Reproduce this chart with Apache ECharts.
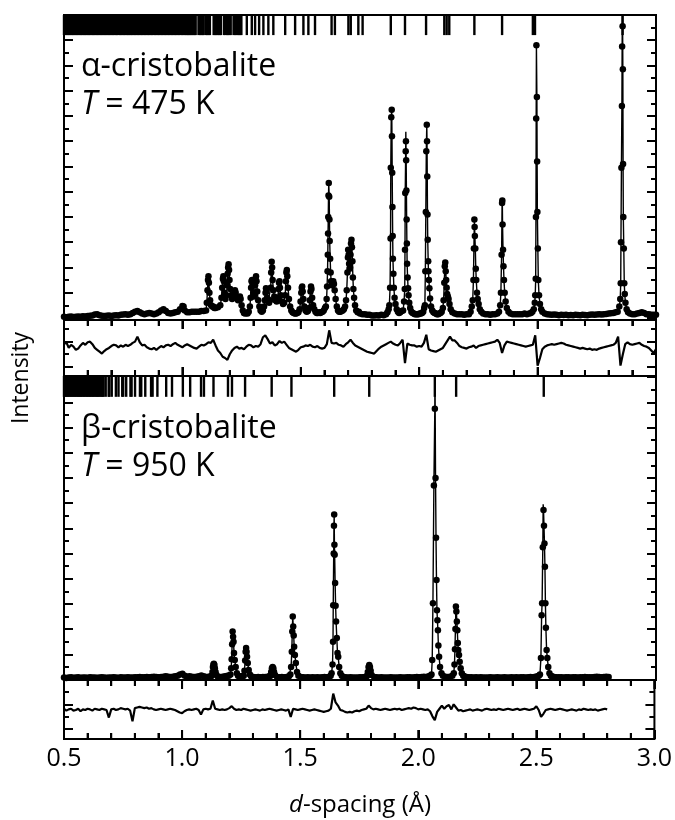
<!DOCTYPE html>
<html><head><meta charset="utf-8">
<script src="https://cdn.jsdelivr.net/npm/echarts@6/dist/echarts.min.js"></script>
<style>html,body{margin:0;padding:0;background:#fff;overflow:hidden}#c{width:675px;height:820px}</style>
</head><body><div id="c"></div>
<script>
// ---------------- data ----------------
const xTickLabels = [0.5, 1.0, 1.5, 2.0, 2.5, 3.0];
const xMinorTicks = [0.5,0.6,0.7,0.8,0.9,1.0,1.1,1.2,1.3,1.4,1.5,1.6,1.7,1.8,1.9,2.0,2.1,2.2,2.3,2.4,2.5,2.6,2.7,2.8,2.9,3.0];

// alpha-cristobalite, observed points [d, intensity]
const alphaObs = [
[0.50,0.10],[0.51,0.05],[0.52,0.10],[0.53,0.12],[0.54,0.08],[0.55,0.10],[0.56,0.12],[0.57,0.10],[0.58,0.14],[0.59,0.12],
[0.60,0.15],[0.61,0.18],[0.62,0.20],[0.63,0.28],[0.64,0.30],[0.65,0.22],[0.66,0.18],[0.67,0.15],[0.68,0.18],[0.69,0.20],
[0.70,0.16],[0.71,0.20],[0.72,0.22],[0.73,0.20],[0.74,0.25],[0.75,0.28],[0.76,0.30],[0.77,0.25],[0.78,0.30],[0.79,0.40],
[0.80,0.50],[0.81,0.55],[0.82,0.45],[0.83,0.35],[0.84,0.30],[0.85,0.35],[0.86,0.40],[0.87,0.35],[0.88,0.30],[0.89,0.35],
[0.90,0.45],[0.91,0.60],[0.92,0.70],[0.93,0.55],[0.94,0.40],[0.95,0.35],[0.96,0.40],[0.97,0.45],[0.98,0.50],[0.99,0.70],
[1.00,0.95],[1.005,0.90],[1.01,0.60],[1.02,0.45],[1.03,0.45],[1.04,0.50],[1.05,0.50],[1.06,0.50],[1.07,0.50],[1.08,0.55],[1.09,0.55],[1.10,0.60],
[1.103,1.2],[1.106,2.2],[1.108,3.0],[1.110,3.3],[1.112,2.8],[1.114,2.0],[1.117,1.4],[1.121,1.0],[1.126,0.9],[1.13,0.9],[1.135,0.8],[1.14,0.8],[1.15,0.85],[1.16,1.0],
[1.165,1.6],[1.168,2.4],[1.171,3.1],[1.173,3.3],[1.175,2.9],[1.178,2.0],[1.182,1.5],[1.186,1.8],[1.189,2.6],[1.191,3.5],[1.193,4.0],[1.195,4.25],[1.197,3.8],[1.199,3.0],[1.202,2.3],
[1.206,1.8],[1.21,1.5],[1.215,1.6],[1.219,1.9],[1.222,2.2],[1.225,2.0],[1.23,1.6],[1.235,1.4],[1.24,1.5],[1.243,1.7],[1.246,1.5],[1.25,1.0],[1.255,0.6],[1.26,0.4],[1.265,0.35],[1.27,0.4],[1.275,0.35],[1.28,0.5],
[1.285,0.9],[1.288,1.6],[1.290,2.4],[1.292,2.9],[1.294,3.0],[1.296,2.6],[1.299,2.0],[1.302,1.7],[1.305,1.9],[1.307,2.6],[1.309,3.1],[1.311,3.3],[1.313,2.9],[1.316,2.1],[1.32,1.4],[1.325,0.9],[1.33,0.6],[1.335,0.5],[1.34,0.6],[1.345,0.9],
[1.348,1.4],[1.351,2.0],[1.353,2.35],[1.355,2.1],[1.358,1.6],[1.362,1.3],[1.366,1.2],[1.37,1.4],[1.373,2.4],[1.375,3.6],[1.377,4.45],[1.379,4.0],[1.381,3.0],[1.384,2.2],[1.388,1.7],
[1.393,1.4],[1.398,1.3],[1.403,1.6],[1.406,2.3],[1.408,2.8],[1.410,2.9],[1.412,2.4],[1.415,1.8],[1.42,1.3],[1.425,1.1],[1.43,1.2],
[1.434,1.8],[1.437,2.9],[1.439,3.6],[1.441,3.8],[1.443,3.3],[1.446,2.4],[1.45,1.5],[1.455,0.9],[1.46,0.6],[1.465,0.45],[1.47,0.4],[1.475,0.35],[1.48,0.35],[1.485,0.4],[1.49,0.45],[1.495,0.7],
[1.499,1.3],[1.502,2.0],[1.504,2.4],[1.506,2.5],[1.508,2.1],[1.511,1.5],[1.515,0.9],[1.52,0.6],[1.525,0.5],[1.53,0.55],[1.535,0.8],
[1.538,1.4],[1.541,2.1],[1.543,2.5],[1.545,2.3],[1.548,1.6],[1.552,1.0],[1.557,0.7],[1.562,0.5],[1.567,0.4],[1.572,0.4],[1.577,0.45],[1.582,0.4],[1.587,0.45],[1.592,0.5],[1.597,0.6],[1.602,0.8],
[1.606,0.9],[1.609,1.5],[1.611,2.5],[1.613,3.7],[1.614,5.0],[1.615,6.7],[1.616,8.0],[1.617,9.7],[1.618,10.7],[1.620,9.6],[1.621,7.8],[1.622,6.1],[1.624,4.7],[1.626,3.6],[1.628,2.9],
[1.631,2.6],[1.634,2.8],[1.637,2.9],[1.640,2.7],[1.643,2.2],[1.647,1.5],[1.652,0.9],[1.657,0.6],[1.662,0.5],[1.667,0.5],[1.672,0.55],[1.677,0.6],[1.682,0.7],[1.687,0.9],[1.691,1.4],
[1.694,2.2],[1.697,3.6],[1.699,4.8],[1.700,5.4],[1.702,5.0],[1.704,4.3],[1.706,3.9],[1.708,4.0],[1.710,5.0],[1.712,5.9],[1.714,6.2],[1.716,5.6],[1.718,4.5],[1.720,3.2],[1.722,2.3],[1.725,1.6],[1.729,1.0],[1.734,0.6],[1.74,0.45],[1.745,0.5],[1.75,0.35],
[1.76,0.3],[1.77,0.3],[1.78,0.25],[1.79,0.25],[1.80,0.2],[1.81,0.2],[1.82,0.22],[1.83,0.2],[1.84,0.25],[1.85,0.22],[1.86,0.3],[1.866,0.45],[1.871,0.7],
[1.874,1.0],[1.877,2.4],[1.879,6.3],[1.880,11.9],[1.882,15.9],[1.884,16.5],[1.885,14.4],[1.886,11.5],[1.887,8.8],[1.888,6.5],[1.889,4.7],[1.891,3.5],[1.893,2.4],[1.896,1.6],[1.9,1.1],[1.905,0.7],[1.91,0.5],[1.915,0.4],[1.92,0.45],[1.926,0.55],
[1.932,0.6],[1.936,1.3],[1.939,2.3],[1.940,5.4],[1.941,9.9],[1.943,13.2],[1.944,14.0],[1.945,12.5],[1.946,10.1],[1.947,7.8],[1.948,5.9],[1.949,4.3],[1.951,3.2],[1.953,2.35],[1.955,1.8],[1.958,1.2],[1.962,0.8],[1.967,0.5],[1.972,0.4],[1.977,0.35],[1.982,0.3],[1.987,0.3],[1.992,0.3],[1.997,0.3],[2.002,0.35],[2.007,0.35],[2.012,0.4],[2.017,0.5],[2.021,0.8],
[2.024,1.0],[2.026,3.7],[2.028,8.4],[2.030,13.2],[2.032,15.3],[2.033,14.0],[2.034,11.2],[2.035,8.2],[2.036,6.2],[2.038,4.5],[2.039,3.7],[2.041,3.0],[2.043,2.35],[2.046,1.55],[2.05,0.9],[2.055,0.6],[2.06,0.45],[2.065,0.4],[2.07,0.35],[2.075,0.3],[2.08,0.3],[2.085,0.35],[2.09,0.4],[2.095,0.5],[2.10,0.8],
[2.103,1.4],[2.106,2.8],[2.108,4.1],[2.110,4.4],[2.112,3.7],[2.114,3.0],[2.116,2.4],[2.118,1.9],[2.121,1.7],[2.124,1.5],[2.128,1.1],[2.133,0.7],[2.14,0.45],[2.15,0.35],[2.16,0.3],[2.17,0.3],[2.18,0.3],[2.19,0.25],[2.20,0.3],[2.21,0.3],[2.217,0.5],[2.222,0.9],
[2.226,1.4],[2.229,3.0],[2.231,5.5],[2.233,7.8],[2.234,7.2],[2.235,6.5],[2.237,5.5],[2.239,3.9],[2.241,3.0],[2.244,2.0],[2.247,1.5],[2.251,1.1],[2.256,0.7],[2.262,0.5],[2.27,0.35],[2.28,0.3],[2.29,0.3],[2.30,0.25],[2.31,0.3],[2.32,0.3],[2.33,0.35],[2.337,0.5],[2.342,1.0],
[2.345,2.0],[2.348,5.0],[2.350,9.1],[2.351,9.3],[2.352,7.4],[2.354,5.4],[2.356,4.1],[2.358,3.0],[2.361,2.0],[2.365,1.3],[2.37,0.8],[2.377,0.5],[2.385,0.35],[2.395,0.3],[2.405,0.3],[2.415,0.3],[2.425,0.3],[2.435,0.3],[2.445,0.35],[2.455,0.3],[2.465,0.35],[2.472,0.4],[2.478,0.5],[2.484,0.7],[2.488,1.2],
[2.490,1.8],[2.492,3.1],[2.493,8.0],[2.494,15.8],[2.495,21.6],[2.497,17.5],[2.498,12.4],[2.499,8.4],[2.501,5.5],[2.503,3.0],[2.506,1.8],[2.51,1.1],[2.515,0.7],[2.52,0.5],[2.53,0.35],[2.54,0.3],
[2.55,0.28],[2.56,0.25],[2.57,0.27],[2.58,0.25],[2.59,0.22],[2.60,0.25],[2.61,0.23],[2.62,0.25],[2.63,0.22],[2.64,0.24],[2.65,0.22],[2.66,0.25],[2.67,0.23],[2.68,0.22],[2.69,0.25],[2.70,0.24],[2.71,0.22],[2.72,0.25],[2.73,0.27],[2.74,0.25],[2.75,0.28],[2.76,0.3],[2.77,0.28],[2.78,0.3],[2.79,0.32],[2.80,0.35],[2.81,0.38],[2.82,0.4],[2.83,0.45],
[2.838,0.5],[2.845,0.9],[2.849,1.5],[2.851,2.75],[2.852,6.0],[2.854,11.9],[2.856,16.8],[2.857,21.5],[2.859,23.1],[2.860,19.7],[2.861,12.2],[2.862,8.0],[2.864,5.5],[2.866,2.75],[2.868,1.9],[2.871,1.2],[2.876,0.7],[2.882,0.45],[2.89,0.35],[2.90,0.3],[2.91,0.3],[2.92,0.35],[2.93,0.4],[2.94,0.45],[2.95,0.4],[2.96,0.3],[2.97,0.3],[2.98,0.25],[2.99,0.25],[3.00,0.25]
];
// calculated-profile apexes that differ from the observed points
const alphaCalcApex = [[1.9435,14.75],[2.8585,26.0]];

// alpha reflection positions (d)
const alphaRefl = [
0.500,0.505,0.511,0.516,0.522,0.527,0.533,0.538,0.544,0.549,0.555,0.561,0.566,0.572,0.577,0.583,0.588,0.594,0.600,0.605,
0.611,0.617,0.622,0.628,0.633,0.639,0.645,0.650,0.656,0.662,0.667,0.673,0.679,0.684,0.690,0.696,0.701,0.707,0.713,0.719,
0.724,0.730,0.736,0.742,0.747,0.753,0.759,0.765,0.771,0.776,0.782,0.788,0.794,0.800,0.806,0.812,0.818,0.824,0.830,0.836,
0.842,0.848,0.854,0.860,0.866,0.872,0.878,0.884,0.890,0.896,0.902,0.908,0.914,0.920,0.926,0.932,0.938,0.944,0.950,0.956,
0.962,0.968,0.974,0.980,0.986,0.992,0.998,1.004,1.010,1.016,1.021,
1.025,1.030,1.035,1.040,1.046,1.051,1.056,1.068,1.074,1.080,1.085,1.090,1.100,1.105,1.110,1.116,
1.132,1.137,1.142,1.148,1.153,1.158,1.163,1.176,1.182,1.188,1.193,1.198,1.204,1.216,1.222,1.228,1.234,1.239,1.244,1.249,
1.272,1.293,1.307,1.324,1.342,1.363,1.384,1.434,1.476,1.511,1.532,1.560,1.630,1.644,1.701,1.711,1.743,1.761,1.880,1.940,
2.029,2.106,2.116,2.127,2.233,2.350,2.480,2.489,2.859
];

// alpha difference curve, d = 0.50 ... 3.00 in steps of 0.01
const alphaDiff = [
0.2,0.35,-0.1,0.15,0.0,-0.25,-0.15,0.1,0.3,0.15,
0.35,0.4,0.2,-0.1,-0.25,-0.4,-0.55,-0.35,-0.2,-0.1,
0.05,0.15,0.1,-0.05,0.1,0.0,0.15,0.05,0.15,0.3,
0.4,0.8,0.35,0.1,0.15,-0.05,-0.15,-0.2,-0.1,-0.25,
-0.1,0.05,-0.05,0.1,0.15,0.05,0.2,0.3,0.15,0.05,
-0.05,0.1,0.2,0.1,0.0,-0.1,-0.15,0.0,0.15,0.1,
0.2,0.35,0.3,0.55,0.1,-0.3,-0.5,-0.8,-0.9,-1.05,
-0.6,-0.3,-0.1,0.0,-0.15,-0.1,-0.2,0.0,0.15,0.1,
-0.05,0.05,0.0,0.2,0.75,0.9,0.6,0.25,0.35,0.1,
0.2,0.45,0.3,0.4,0.15,-0.1,-0.2,-0.3,-0.4,-0.25,
-0.05,0.0,0.1,0.05,0.15,0.0,-0.05,0.05,-0.1,-0.15,
-0.1,0.2,1.3,0.3,0.25,0.3,0.15,0.1,0.0,0.2,
0.35,0.55,0.3,0.1,0.0,-0.1,-0.2,-0.3,-0.4,-0.45,
-0.5,-0.55,-0.35,-0.15,0.0,0.1,0.2,0.3,0.4,0.25,
0.15,0.1,0.3,0.55,-1.3,0.25,0.15,0.1,0.1,0.0,
0.05,0.0,0.3,0.95,-0.2,-0.3,-0.35,-0.4,-0.3,-0.2,
-0.1,0.2,0.5,0.8,0.5,0.5,0.3,0.05,-0.05,-0.1,
-0.15,-0.05,0.0,0.1,-0.1,0.05,0.1,0.15,0.2,0.25,
0.3,0.35,0.4,0.55,0.3,-0.5,0.1,0.4,0.35,0.3,
0.25,0.2,0.15,0.1,0.05,0.0,0.05,0.1,0.15,0.9,
-1.5,-0.9,-0.2,0.0,0.1,0.15,0.2,0.15,0.2,0.25,
0.3,0.25,0.15,0.1,0.05,0.0,-0.05,-0.1,-0.15,-0.1,
-0.15,-0.2,-0.15,-0.25,-0.2,-0.25,-0.15,-0.1,-0.05,0.0,
0.05,0.1,0.15,0.3,0.8,-1.5,-0.6,0.2,0.35,0.2,
0.15,0.2,0.25,0.3,0.15,0.05,0.0,-0.1,-0.3,-0.5,
-0.2
];

// beta-cristobalite, observed points [d, intensity]
const betaObs = [
[0.50,0.15],[0.51,0.12],[0.52,0.15],[0.53,0.18],[0.54,0.14],[0.55,0.15],[0.56,0.17],[0.57,0.13],[0.58,0.15],[0.59,0.16],
[0.60,0.14],[0.61,0.17],[0.62,0.15],[0.63,0.16],[0.64,0.13],[0.65,0.15],[0.66,0.17],[0.67,0.15],[0.68,0.14],[0.69,0.16],
[0.70,0.15],[0.71,0.18],[0.72,0.15],[0.73,0.14],[0.74,0.17],[0.75,0.16],[0.76,0.15],[0.77,0.18],[0.78,0.16],[0.79,0.15],
[0.80,0.18],[0.81,0.17],[0.82,0.2],[0.83,0.18],[0.84,0.17],[0.85,0.2],[0.86,0.18],[0.87,0.2],[0.88,0.22],[0.89,0.2],
[0.90,0.18],[0.91,0.2],[0.92,0.22],[0.93,0.25],[0.94,0.22],[0.95,0.2],[0.96,0.22],[0.97,0.25],[0.98,0.3],[0.99,0.4],
[1.00,0.45],[1.01,0.3],[1.02,0.22],[1.03,0.25],[1.04,0.22],[1.05,0.2],[1.06,0.22],[1.07,0.25],[1.08,0.32],[1.09,0.25],
[1.10,0.2],[1.11,0.22],[1.12,0.25],
[1.124,0.3],[1.127,0.6],[1.129,1.0],[1.131,1.2],[1.133,1.25],[1.135,1.15],[1.137,0.9],[1.140,0.6],[1.144,0.35],
[1.15,0.22],[1.16,0.2],[1.17,0.22],[1.18,0.25],[1.19,0.3],[1.196,0.3],
[1.203,0.4],[1.206,0.9],[1.208,1.6],[1.210,2.8],[1.212,3.8],[1.214,3.4],[1.216,3.0],[1.218,2.1],[1.221,1.55],[1.225,1.0],[1.23,0.5],[1.235,0.3],
[1.24,0.25],[1.245,0.22],[1.25,0.25],[1.255,0.28],
[1.259,0.3],[1.262,0.7],[1.265,1.5],[1.267,2.2],[1.269,2.5],[1.271,2.2],[1.273,1.8],[1.276,1.3],[1.28,0.75],[1.285,0.4],
[1.29,0.25],[1.30,0.2],[1.31,0.18],[1.32,0.2],[1.33,0.18],[1.34,0.2],[1.35,0.2],[1.36,0.22],[1.367,0.25],
[1.372,0.3],[1.375,0.6],[1.378,0.9],[1.381,1.0],[1.384,0.9],[1.387,0.6],[1.391,0.35],
[1.40,0.2],[1.41,0.18],[1.42,0.2],[1.43,0.18],[1.44,0.2],[1.45,0.25],
[1.456,0.4],[1.459,1.0],[1.462,2.2],[1.464,3.8],[1.466,5.0],[1.468,4.2],[1.470,3.5],[1.472,2.6],[1.475,1.95],[1.479,1.3],[1.484,0.6],[1.49,0.3],
[1.50,0.2],[1.51,0.18],[1.52,0.15],[1.53,0.18],[1.54,0.15],[1.55,0.17],[1.56,0.15],[1.57,0.18],[1.58,0.16],[1.59,0.18],[1.60,0.2],[1.61,0.18],[1.62,0.22],[1.626,0.3],
[1.630,0.5],[1.634,1.2],[1.636,3.0],[1.637,5.9],[1.639,10.0],[1.640,12.2],[1.641,13.1],[1.642,10.7],[1.643,9.9],[1.645,7.65],[1.647,5.85],[1.649,4.6],[1.652,3.3],[1.655,2.1],[1.658,1.8],[1.662,1.0],[1.667,0.5],[1.673,0.3],
[1.68,0.2],[1.69,0.18],[1.70,0.15],[1.71,0.17],[1.72,0.15],[1.73,0.16],[1.74,0.15],[1.75,0.17],[1.76,0.18],[1.77,0.2],[1.776,0.22],
[1.780,0.3],[1.783,0.6],[1.786,1.0],[1.789,1.15],[1.792,1.0],[1.795,0.7],[1.799,0.35],
[1.81,0.2],[1.82,0.17],[1.83,0.15],[1.84,0.17],[1.85,0.15],[1.86,0.16],[1.87,0.15],[1.88,0.17],[1.89,0.15],[1.90,0.16],[1.91,0.15],[1.92,0.17],[1.93,0.16],[1.94,0.15],[1.95,0.17],[1.96,0.18],[1.97,0.16],[1.98,0.18],[1.99,0.2],[2.00,0.18],[2.01,0.2],[2.02,0.22],[2.03,0.2],[2.04,0.25],[2.047,0.3],
[2.052,0.4],[2.055,1.55],[2.058,6.05],[2.062,15.4],[2.066,21.5],[2.069,16.0],[2.071,11.25],[2.073,7.9],[2.075,5.5],[2.077,4.7],[2.079,3.9],[2.081,2.7],[2.084,1.8],[2.088,1.0],[2.094,0.5],[2.10,0.3],
[2.11,0.22],[2.12,0.2],[2.13,0.22],[2.14,0.3],
[2.146,0.5],[2.149,1.2],[2.151,2.4],[2.153,4.0],[2.155,5.8],[2.157,5.4],[2.159,4.6],[2.161,3.9],[2.163,2.9],[2.165,2.35],[2.168,1.95],[2.171,1.4],[2.175,0.9],[2.18,0.5],[2.186,0.3],
[2.19,0.25],[2.20,0.2],[2.21,0.18],[2.22,0.17],[2.23,0.16],[2.24,0.18],[2.25,0.15],[2.26,0.17],[2.27,0.15],[2.28,0.16],[2.29,0.15],[2.30,0.17],[2.31,0.16],[2.32,0.15],[2.33,0.17],[2.34,0.16],[2.35,0.15],[2.36,0.17],[2.37,0.16],[2.38,0.15],[2.39,0.17],[2.40,0.16],[2.41,0.18],[2.42,0.16],[2.43,0.17],[2.44,0.18],[2.45,0.16],[2.46,0.18],[2.47,0.2],[2.48,0.18],[2.49,0.22],[2.50,0.25],[2.505,0.3],
[2.510,0.4],[2.514,1.7],[2.517,5.1],[2.519,6.05],[2.522,10.5],[2.525,13.45],[2.527,12.2],[2.529,10.8],[2.531,8.95],[2.533,6.05],[2.535,4.1],[2.538,2.35],[2.541,1.7],[2.545,1.0],[2.55,0.5],[2.556,0.3],
[2.56,0.25],[2.57,0.2],[2.58,0.18],[2.59,0.17],[2.60,0.18],[2.61,0.16],[2.62,0.18],[2.63,0.17],[2.64,0.16],[2.65,0.18],[2.66,0.17],[2.67,0.16],[2.68,0.18],[2.69,0.17],[2.70,0.2],[2.71,0.18],[2.72,0.17],[2.73,0.18],[2.74,0.2],[2.75,0.22],[2.76,0.2],[2.77,0.18],[2.78,0.2],[2.79,0.22],[2.80,0.2]
];
const betaCalcApex = [[2.0665,25.0],[2.5235,13.9]];

// beta reflection positions (d)
const betaRefl = [
0.500,0.504,0.509,0.513,0.518,0.522,0.527,0.531,0.536,0.540,0.545,0.549,0.554,0.559,0.563,0.568,0.572,0.577,0.582,0.586,
0.591,0.596,0.600,0.605,0.610,0.615,0.620,0.624,0.629,0.634,0.639,0.644,0.649,0.654,0.659,0.663,
0.6672,0.6761,0.6886,0.6916,0.7016,0.7191,0.7302,0.7459,0.7501,0.7627,0.7806,0.7854,0.800,0.8207,0.8262,0.8432,0.8677,0.8741,0.8944,
0.9315,0.9561,1.0019,1.0328,1.0787,1.091,1.1313,1.1925,1.2094,1.2647,1.377,1.4605,1.641,1.789,2.066,2.156,2.526
];

// beta difference curve, d = 0.50 ... 2.80 in steps of 0.01
const betaDiff = [
0.1,-0.05,0.05,0.1,-0.05,0.0,0.1,-0.1,0.05,0.0,
0.1,0.05,-0.05,0.1,0.05,0.0,0.1,0.05,0.0,-0.6,
0.05,0.1,0.0,0.05,0.15,0.1,0.05,0.1,-0.05,-0.9,
0.15,0.2,0.25,0.2,0.15,0.2,0.1,0.15,0.05,0.0,
0.05,0.1,0.05,0.0,0.05,0.1,0.05,0.0,-0.1,-0.2,
-0.25,-0.1,0.0,0.05,0.0,0.05,0.1,0.0,-0.35,0.05,
0.1,0.05,0.1,0.75,0.1,0.05,0.0,0.05,0.0,0.05,
0.15,0.3,0.1,0.0,0.05,0.0,0.1,0.05,0.0,-0.05,
0.0,0.05,0.0,-0.05,0.05,0.0,0.05,0.1,0.05,0.0,
-0.05,0.0,0.05,0.0,-0.05,0.05,-0.55,0.1,0.05,0.0,
0.05,0.1,0.05,0.0,-0.05,0.0,0.05,0.0,-0.05,-0.1,
-0.15,-0.1,-0.05,0.1,1.3,0.6,0.35,0.0,-0.05,-0.15,
-0.2,-0.15,-0.2,-0.1,-0.05,-0.1,0.0,0.05,0.1,0.35,
0.15,0.05,0.1,0.05,0.0,0.05,0.1,0.05,0.0,0.05,
0.1,0.05,0.1,0.0,0.05,0.1,0.15,0.1,0.2,0.15,
0.05,0.1,0.05,0.0,0.05,-0.1,-0.5,-0.8,-0.15,0.1,
0.35,0.1,0.3,0.4,0.05,0.45,0.2,-0.05,0.0,-0.1,
-0.05,0.0,0.05,-0.05,0.0,0.05,0.0,-0.05,0.05,0.1,
0.05,0.0,0.05,0.0,0.1,0.05,0.0,0.05,0.1,0.05,
0.0,0.05,0.1,0.0,0.05,0.1,0.05,0.0,0.05,0.1,
0.3,0.0,-0.55,-0.3,0.0,0.05,0.1,0.05,0.0,0.05,
0.1,0.05,0.0,-0.05,0.0,0.05,0.0,-0.05,0.05,0.0,
0.1,0.05,0.0,0.05,0.0,0.05,-0.05,0.0,0.05,0.1,
0.05
];
const diffStart = 0.5, diffStep = 0.01;

// ---------------- layout / styling ----------------
const FONT = '"Open Sans", "DejaVu Sans", sans-serif';
const BLACK = '#000';
const L = 64, R = 19;
// [top, height] of the four stacked panels (px)
const panels = [[15, 305], [320, 56], [376, 304], [680, 59]];
// y ranges of the panels (data units) and tick positions
const yRanges = [[-0.16, 24.0], [-2.33, 2.12], [-0.04, 24.09], [-2.30, 2.38]];
const evens = [], odds = [];
for (let k = 0; k <= 24; k++) (k % 2 ? odds : evens).push(k);
const yTickLong = [evens, [-1.59, 0.41], evens, [-1.51, 0.45]];
const yTickShort = [odds, [-0.59, 1.41], odds, [-0.53, 1.45]];

const grid = panels.map(p => ({left: L, right: R, top: p[0], height: p[1], show: true,
  borderColor: BLACK, borderWidth: 2, backgroundColor: 'transparent'}));

const tickStyle = {color: BLACK, width: 2};
const xBase = {type: 'value', min: 0.5, max: 3.0, interval: 0.5,
  axisLine: {show: false, onZero: false},
  splitLine: {show: false}, axisLabel: {show: false}, axisTick: {show: false}};
// tick-only x axes pinned to the panel edges through helper y axes whose zero lies on the edge
function edgeXAxis(g, pos, yIdx) {
  return Object.assign({}, xBase, {gridIndex: g, position: pos,
    axisLine: {show: false, onZero: true, onZeroAxisIndex: yIdx},
    axisTick: {show: true, inside: true, length: 9, lineStyle: tickStyle},
    minorTick: {show: true, splitNumber: 5, length: 6, lineStyle: tickStyle}});
}
const xAxis = [
  Object.assign({}, xBase, {gridIndex: 0}),
  Object.assign({}, xBase, {gridIndex: 1}),
  Object.assign({}, xBase, {gridIndex: 2}),
  Object.assign({}, xBase, {gridIndex: 3, position: 'bottom',
    axisLabel: {show: true, customValues: xTickLabels, color: BLACK, fontSize: 25,
      fontFamily: FONT, margin: 7, formatter: v => v.toFixed(1)}}),
  edgeXAxis(1, 'top', 17), edgeXAxis(1, 'bottom', 16),
  edgeXAxis(3, 'top', 19), edgeXAxis(3, 'bottom', 18)
];

const yAxis = [];
for (let g = 0; g < 4; g++) {
  const base = {type: 'value', gridIndex: g, min: yRanges[g][0], max: yRanges[g][1],
    axisLine: {show: false, onZero: false}, splitLine: {show: false}, axisLabel: {show: false}};
  const mk = (pos, vals, len) => Object.assign({}, base, {position: pos,
    axisTick: {show: true, inside: true, length: len, customValues: vals, lineStyle: tickStyle}});
  yAxis.push(mk('left', yTickLong[g], 9), mk('left', yTickShort[g], 5),
             mk('right', yTickLong[g], 9), mk('right', yTickShort[g], 5));
}
// helper y axes (indices 16-19): zero at bottom edge / zero at top edge of each difference panel
[1, 3].forEach(g => {
  const span = yRanges[g][1] - yRanges[g][0];
  const hid = {type: 'value', gridIndex: g, show: false, axisLine: {show: false, onZero: false},
    axisTick: {show: false}, axisLabel: {show: false}, splitLine: {show: false}};
  yAxis.push(Object.assign({}, hid, {min: 0, max: span}));
  yAxis.push(Object.assign({}, hid, {min: -span, max: 0}));
});

const byD = arr => arr.slice().sort((a, b) => a[0] - b[0]);
function panelSeries(g, obs, apex, refl, reflY, reflH) {
  return [
    {type: 'scatter', xAxisIndex: g, yAxisIndex: 4 * g, data: refl.map(d => [d, reflY]),
      symbol: 'rect', symbolSize: [2.4, reflH], itemStyle: {color: BLACK, opacity: 1}, silent: true, z: 2},
    {type: 'scatter', xAxisIndex: g, yAxisIndex: 4 * g, data: obs, symbol: 'circle',
      symbolSize: 6.5, itemStyle: {color: BLACK, opacity: 1}, silent: true, z: 3},
    {type: 'line', xAxisIndex: g, yAxisIndex: 4 * g, data: byD(obs.concat(apex)),
      symbol: 'none', lineStyle: {color: BLACK, width: 1.4}, silent: true, z: 4}
  ];
}
function diffSeries(g, vals) {
  return {type: 'line', xAxisIndex: g, yAxisIndex: 4 * g,
    data: vals.map((v, i) => [diffStart + i * diffStep, v]), symbol: 'none',
    lineStyle: {color: BLACK, width: 2.2}, silent: true, z: 4};
}

const series = [].concat(
  panelSeries(0, alphaObs, alphaCalcApex, alphaRefl, 23.2, 20),
  [diffSeries(1, alphaDiff)],
  panelSeries(2, betaObs, betaCalcApex, betaRefl, 23.27, 21),
  [diffSeries(3, betaDiff)]
);

const txt = (x, y, text, size, extra) => ({type: 'text', x, y, z: 10, style: Object.assign({
  text, fill: BLACK, fontSize: size, fontFamily: FONT, verticalAlign: 'middle',
  rich: {i: {fontStyle: 'italic', fontSize: size, fontFamily: FONT, fill: BLACK}}}, extra || {})});

const graphic = [
  txt(81, 67, 'α-cristobalite', 32),
  txt(81, 105, '{i|T} = 475 K', 32),
  txt(81, 429, 'β-cristobalite', 32),
  txt(81, 467, '{i|T} = 950 K', 32),
  Object.assign(txt(21, 378, 'Intensity', 23, {align: 'center'}), {rotation: Math.PI / 2}),
  txt(360, 805, '{i|d}-spacing (Å)', 24, {align: 'center'})
];

const chart = echarts.init(document.getElementById('c'));
chart.setOption({animation: false, backgroundColor: '#fff', grid, xAxis, yAxis, series, graphic});

// extra safety: the same edge ticks as filled rects on an upper layer, placed through the x/y scales
try {
  const tickMarks = [];
  [1, 3].forEach(g => {
    const yr = yRanges[g];
    xMinorTicks.forEach(d => {
      const major = xTickLabels.some(t => Math.abs(t - d) < 1e-6);
      const len = major ? 9 : 6;
      const pt = chart.convertToPixel({xAxisIndex: g, yAxisIndex: 4 * g}, [d, yr[1]]);
      const pb = chart.convertToPixel({xAxisIndex: g, yAxisIndex: 4 * g}, [d, yr[0]]);
      if (!pt || !pb) return;
      tickMarks.push({type: 'rect', zlevel: 1, z: 50, silent: true,
        shape: {x: pt[0] - 1, y: pt[1], width: 2, height: len}, style: {fill: BLACK}});
      tickMarks.push({type: 'rect', zlevel: 1, z: 50, silent: true,
        shape: {x: pb[0] - 1, y: pb[1] - len, width: 2, height: len}, style: {fill: BLACK}});
    });
  });
  chart.setOption({graphic: graphic.concat(tickMarks)});
} catch (e) { /* keep the base chart */ }
</script>
</body></html>
